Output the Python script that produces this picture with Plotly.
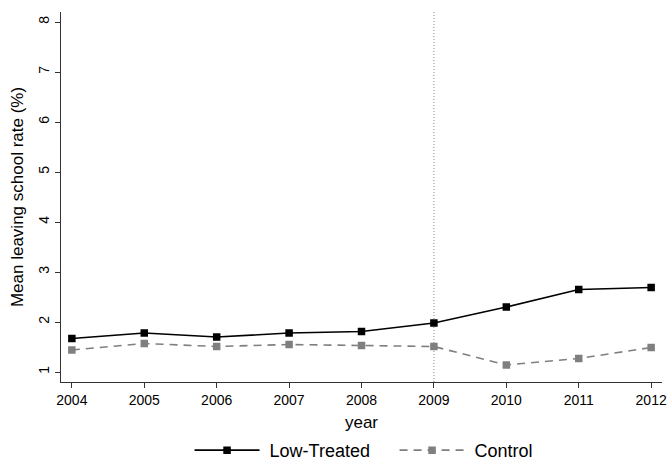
import plotly.graph_objects as go

years = [2004, 2005, 2006, 2007, 2008, 2009, 2010, 2011, 2012]
low_treated = [1.67, 1.78, 1.70, 1.78, 1.81, 1.98, 2.30, 2.65, 2.69]
control = [1.44, 1.57, 1.51, 1.55, 1.53, 1.51, 1.14, 1.27, 1.49]
y_ticks = [1, 2, 3, 4, 5, 6, 7, 8]
policy_year = 2009

fig = go.Figure()

# a non-breaking space widens the gap between legend symbol and label
pad = "\u00a0"

fig.add_trace(go.Scatter(
    x=years, y=low_treated, name=pad + "Low-Treated", mode="lines+markers",
    line=dict(color="black", width=1.6),
    marker=dict(symbol="square", size=7.5, color="black"),
))
fig.add_trace(go.Scatter(
    x=years, y=control, name=pad + "Control", mode="lines+markers",
    line=dict(color="#7f7f7f", width=1.6, dash="8px,6px"),
    marker=dict(symbol="square", size=7.5, color="#7f7f7f"),
))

# vertical reference line at the policy year
fig.add_shape(type="line", xref="x", yref="paper", x0=policy_year, x1=policy_year,
              y0=0, y1=1, line=dict(color="#b0b0b0", width=1.5, dash="1px,2px"), layer="below")

family = "Liberation Sans, Arial, sans-serif"
axis_font = dict(family=family, size=14, color="black")

fig.update_layout(
    width=669, height=462,
    margin=dict(l=61, r=7, t=12, b=80, autoexpand=False),
    plot_bgcolor="white", paper_bgcolor="white",
    font=dict(family=family, color="black"),
    xaxis=dict(
        range=[2003.85, 2012.15], tickvals=years, ticktext=[str(y) for y in years],
        showgrid=False, zeroline=False, showline=True, linecolor="#333333", linewidth=1,
        ticks="outside", ticklen=5, tickcolor="#333333", tickfont=axis_font,
        title=dict(text="year", font=dict(size=17, family=family), standoff=9),
    ),
    yaxis=dict(
        range=[0.8, 8.2], tickvals=y_ticks, tickangle=-90,
        showgrid=False, zeroline=False, showline=True, linecolor="#333333", linewidth=1,
        ticks="outside", ticklen=5, tickcolor="#333333", tickfont=axis_font,
        title=dict(text="Mean leaving school rate (%)", font=dict(size=17, family=family), standoff=8),
    ),
    legend=dict(
        orientation="h", x=0.555, xanchor="center", y=-0.185, yanchor="middle",
        font=dict(size=18), itemwidth=65, entrywidth=125, traceorder="normal",
        tracegroupgap=0,
    ),
)

fig.write_html("out.html")
